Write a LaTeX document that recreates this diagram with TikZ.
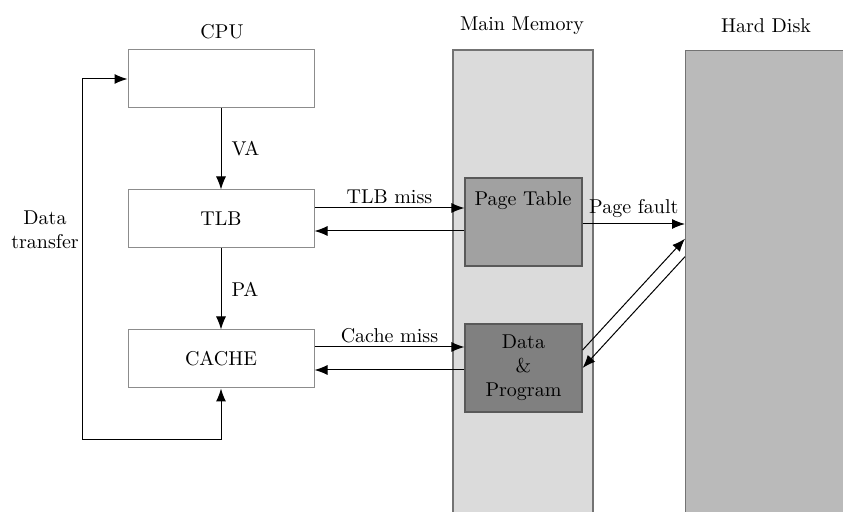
\documentclass[tikz,border=0pt]{standalone}
\usetikzlibrary{arrows.meta}
\begin{document}
\begin{tikzpicture}[x=0.5pt,y=-0.5pt,
  unit/.style={draw=black!45,line width=0.5pt,fill=white,minimum width=93pt,minimum height=29pt,inner sep=0pt},
  store/.style={draw=black!55,line width=0.7pt,inner sep=0pt},
  inner/.style={draw=black!65,line width=0.6pt,minimum width=58.5pt,minimum height=44pt,inner sep=0pt},
  tip/.tip={Latex[length=6.5pt,width=5pt]},
  conn/.style={-tip,line width=0.5pt},
  lbl/.style={inner sep=1pt}]
\useasboundingbox (0,0) rectangle (843,512);
% storage
\node[store,fill=black!14,minimum width=70pt,minimum height=240pt] (mem) at (523,290) {};
\node[store,fill=black!27,minimum width=90pt,minimum height=240pt,anchor=north west] (hd) at (685,50) {};
\node[lbl] (memlbl) at (522,26) {Main Memory};
\node[lbl] (hdlbl) at (766,26) {Hard Disk};
% inner memory boxes
\node[inner,fill=black!37] (pt) at (523.5,222) {};
\node[lbl] (ptlbl) at (523,201) {Page Table};
\node[inner,fill=black!50,align=center] (dp) at (523.5,368) {Data\\\&\\Program};
% CPU side
\node[unit] (cpu) at (221,79) {};
\node[lbl] (cpulbl) at (222,32) {CPU};
\node[unit] (tlb) at (221,219) {TLB};
\node[unit] (cache) at (221,359) {CACHE};
\draw[conn] (cpu.south) -- node[right,lbl,xshift=4pt] {VA} (tlb.north);
\draw[conn] (tlb.south) -- node[right,lbl,xshift=4pt] {PA} (cache.north);
\coordinate (lt) at (82,79);
\coordinate (lb) at (82,440);
\coordinate (rb) at (221,440);
\draw[tip-tip,line width=0.5pt] (cpu.west) -- (lt) -- (lb) -- (rb) -- (cache.south);
\node[lbl,align=center] (dt) at (45,230) {Data\\transfer};
% misses
\draw[conn] ([yshift=5.5pt]tlb.east) -- node[above,lbl,yshift=1pt] {TLB miss} ([yshift=5.5pt]tlb.east -| pt.west);
\draw[conn] ([yshift=-6pt]tlb.east -| pt.west) -- ([yshift=-6pt]tlb.east);
\draw[conn] ([yshift=6pt]cache.east) -- node[above,lbl,yshift=1pt] {Cache miss} ([yshift=6pt]cache.east -| dp.west);
\draw[conn] ([yshift=-5.5pt]cache.east -| dp.west) -- ([yshift=-5.5pt]cache.east);
% page fault
\draw[conn] ([yshift=-1pt]pt.east) -- node[above,lbl,yshift=2pt] {Page fault} ([yshift=-1pt]pt.east -| hd.west);
\draw[conn] ([yshift=9pt]dp.east) -- ([yshift=26pt]hd.west);
\draw[conn] ([yshift=17pt]hd.west) -- (dp.east);
\end{tikzpicture}
\end{document}
